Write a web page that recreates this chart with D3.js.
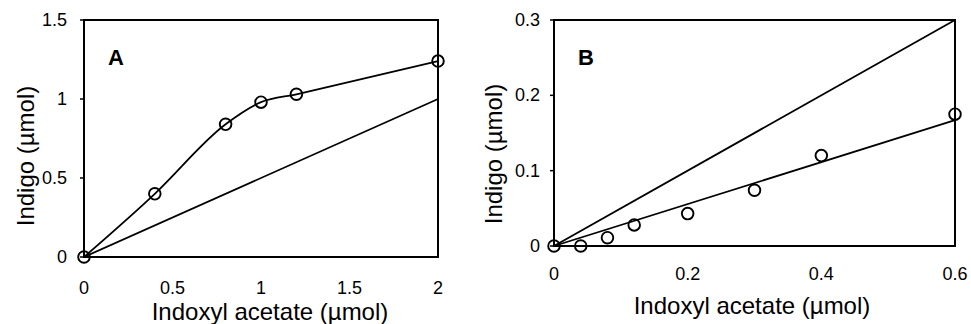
<!DOCTYPE html>
<html>
<head>
<meta charset="utf-8">
<script src="https://cdn.jsdelivr.net/npm/d3@7"></script>
<style>
  body { margin: 0; background: #fff; }
  svg text { font-family: "Liberation Sans", Arial, sans-serif; fill: #000; }
</style>
</head>
<body>
<svg id="chart" width="971" height="324"></svg>
<script>
// panel A: indigo formed vs indoxyl acetate added
var aX      = [0, 0.4, 0.8, 1.0, 1.2, 2.0];
var aY      = [0, 0.40, 0.84, 0.98, 1.03, 1.24];
var aRefX   = [0, 2];
var aRefY   = [0, 1];
var aXTicks = [0, 0.5, 1, 1.5, 2];
var aYTicks = [0, 0.5, 1, 1.5];

// panel B: low range
var bX      = [0, 0.04, 0.08, 0.12, 0.2, 0.3, 0.4, 0.6];
var bY      = [0, 0, 0.011, 0.028, 0.043, 0.074, 0.12, 0.175];
var bRefX   = [0, 0.6];
var bRefY   = [0, 0.3];
var bFitX   = [0, 0.6];
var bFitY   = [0, 0.167];
var bXTicks = [0, 0.2, 0.4, 0.6];
var bYTicks = [0, 0.1, 0.2, 0.3];

var svg = d3.select("#chart");

function zip(xs, ys) { return xs.map(function (x, i) { return [x, ys[i]]; }); }

function drawPanel(cfg) {
  var x = d3.scaleLinear().domain(cfg.xDomain).range([cfg.left, cfg.right]);
  var y = d3.scaleLinear().domain(cfg.yDomain).range([cfg.bottom, cfg.top]);
  var g = svg.append("g");

  // frame
  g.append("rect")
    .attr("x", cfg.left).attr("y", cfg.top)
    .attr("width", cfg.right - cfg.left).attr("height", cfg.bottom - cfg.top)
    .attr("fill", "none").attr("stroke", "#000").attr("stroke-width", 2);

  // short outward ticks on the y axis
  g.selectAll(".ytm").data(cfg.yTicks).enter().append("line")
    .attr("x1", cfg.left - 4).attr("x2", cfg.left)
    .attr("y1", function (d) { return y(d); })
    .attr("y2", function (d) { return y(d); })
    .attr("stroke", "#000").attr("stroke-width", 1.5);

  g.selectAll(".xt").data(cfg.xTicks).enter().append("text")
    .attr("x", function (d) { return x(d); })
    .attr("y", cfg.xTickY)
    .attr("text-anchor", "middle")
    .style("font-size", "18px")
    .text(function (d) { return d3.format("")(d); });

  g.selectAll(".yt").data(cfg.yTicks).enter().append("text")
    .attr("x", cfg.yTickX)
    .attr("y", function (d) { return y(d) + 6; })
    .attr("text-anchor", "end")
    .style("font-size", "18px")
    .text(function (d) { return d3.format("")(d); });

  // axis titles
  g.append("text")
    .attr("x", cfg.xTitleX)
    .attr("y", cfg.xTitleY)
    .attr("text-anchor", "middle")
    .style("font-size", "24px")
    .text("Indoxyl acetate (\u00b5mol)");

  g.append("text")
    .attr("transform", "translate(" + cfg.yTitleX + "," + cfg.yTitleMid + ") rotate(-90)")
    .attr("text-anchor", "middle")
    .style("font-size", "24px")
    .text("Indigo (\u00b5mol)");

  // panel letter
  g.append("text")
    .attr("x", cfg.left + 24).attr("y", 65)
    .style("font-size", "22px").style("font-weight", "bold")
    .text(cfg.letter);

  var line = d3.line()
    .x(function (d) { return x(d[0]); })
    .y(function (d) { return y(d[1]); });

  cfg.lines.forEach(function (l) {
    g.append("path")
      .datum(l.data)
      .attr("d", line.curve(l.curve || d3.curveLinear))
      .attr("fill", "none").attr("stroke", "#000").attr("stroke-width", 1.8);
  });

  g.selectAll("circle").data(cfg.points).enter().append("circle")
    .attr("cx", function (d) { return x(d[0]); })
    .attr("cy", function (d) { return y(d[1]); })
    .attr("r", 5.8)
    .attr("fill", "none").attr("stroke", "#000").attr("stroke-width", 1.9);
}

drawPanel({
  letter: "A",
  xDomain: [0, 2], yDomain: [0, 1.5],
  left: 84, right: 438, top: 20, bottom: 257,
  xTicks: aXTicks, yTicks: aYTicks,
  xTickY: 294, yTickX: 67,
  xTitleX: 270, xTitleY: 320, yTitleX: 34, yTitleMid: 156,
  points: zip(aX, aY),
  lines: [
    { data: zip(aRefX, aRefY) },
    { data: zip(aX, aY), curve: d3.curveMonotoneX }
  ]
});

drawPanel({
  letter: "B",
  xDomain: [0, 0.6], yDomain: [0, 0.3],
  left: 554, right: 955, top: 20, bottom: 246,
  xTicks: bXTicks, yTicks: bYTicks,
  xTickY: 280, yTickX: 540,
  xTitleX: 752, xTitleY: 314, yTitleX: 502, yTitleMid: 154,
  points: zip(bX, bY),
  lines: [
    { data: zip(bRefX, bRefY) },
    { data: zip(bFitX, bFitY) }
  ]
});
</script>
</body>
</html>
